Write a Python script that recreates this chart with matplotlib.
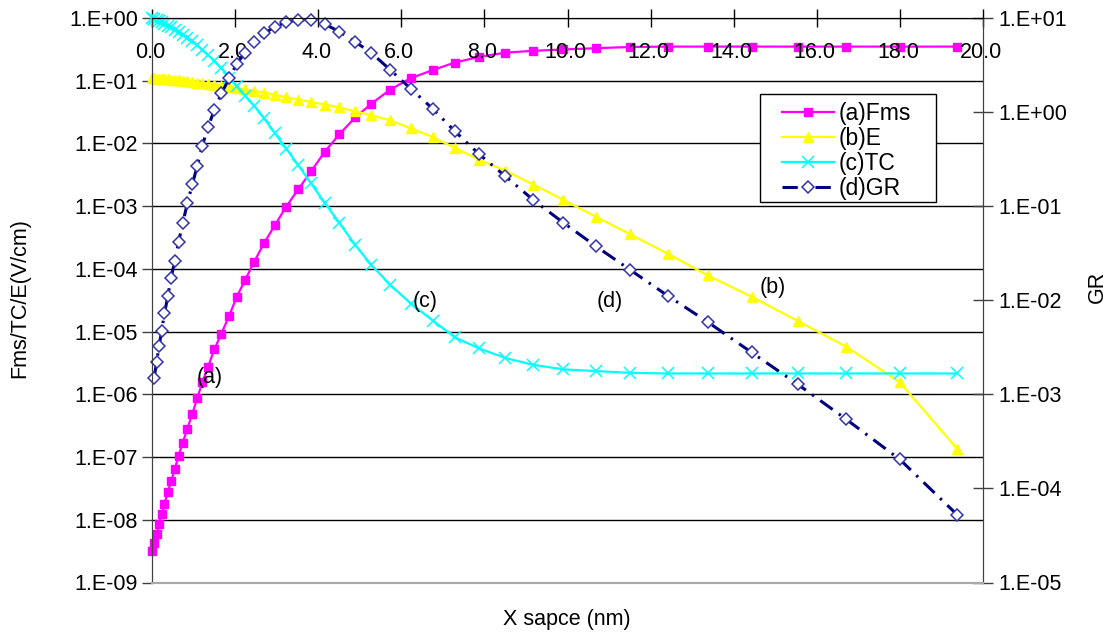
import matplotlib
matplotlib.use("Agg")
import matplotlib.pyplot as plt
import matplotlib.transforms as mtransforms
from matplotlib.ticker import FuncFormatter, NullLocator, FixedLocator
from matplotlib.patches import Rectangle
import numpy as np

plt.rcParams['font.family'] = ['Liberation Sans', 'DejaVu Sans']

# x mesh (nm)
x_nm = [0.0, 0.05, 0.11, 0.17, 0.23, 0.30, 0.38, 0.46, 0.55, 0.64,
        0.74, 0.85, 0.97, 1.09, 1.21, 1.35, 1.50, 1.67, 1.86, 2.04,
        2.24, 2.46, 2.70, 2.96, 3.23, 3.52, 3.83, 4.16, 4.51, 4.89,
        5.28, 5.73, 6.23, 6.76, 7.29, 7.87, 8.50, 9.18, 9.90, 10.68,
        11.51, 12.42, 13.37, 14.43, 15.54, 16.71, 18.00, 19.38]

fms = [3.2e-9, 4.2e-9, 6.0e-9, 8.7e-9, 1.23e-8, 1.8e-8, 2.75e-8, 4.1e-8, 6.5e-8, 1.05e-7,
       1.7e-7, 2.8e-7, 4.9e-7, 8.7e-7, 1.55e-6, 2.75e-6, 5.2e-6, 9.3e-6, 1.8e-5, 3.6e-5,
       6.6e-5, 1.3e-4, 2.6e-4, 5.0e-4, 9.8e-4, 1.86e-3, 3.6e-3, 7.4e-3, 1.4e-2, 2.6e-2,
       4.3e-2, 7.2e-2, 0.11, 0.148, 0.195, 0.24, 0.28, 0.30, 0.315, 0.33,
       0.345, 0.35, 0.35, 0.35, 0.35, 0.35, 0.35, 0.35]

e_field = [0.110, 0.109, 0.108, 0.108, 0.107, 0.106, 0.105, 0.104, 0.102, 0.101,
           0.0995, 0.0977, 0.0955, 0.0933, 0.0912, 0.0891, 0.0861, 0.0832, 0.0804, 0.0767,
           0.0733, 0.0692, 0.0646, 0.0596, 0.0543, 0.0501, 0.0457, 0.0417, 0.0376, 0.0324,
           0.0282, 0.0234, 0.0174, 0.0126, 8.5e-3, 5.5e-3, 3.7e-3, 2.2e-3, 1.26e-3, 6.8e-4,
           3.55e-4, 1.74e-4, 7.9e-5, 3.6e-5, 1.48e-5, 5.75e-6, 1.55e-6, 1.35e-7]

tc = [1.0, 0.977, 0.944, 0.902, 0.861, 0.813, 0.759, 0.708, 0.653, 0.603,
      0.537, 0.479, 0.427, 0.372, 0.309, 0.257, 0.209, 0.158, 0.112, 8.1e-2,
      5.75e-2, 3.98e-2, 2.51e-2, 1.45e-2, 8.3e-3, 4.5e-3, 2.3e-3, 1.12e-3, 5.4e-4, 2.4e-4,
      1.15e-4, 5.6e-5, 2.8e-5, 1.5e-5, 8.1e-6, 5.4e-6, 3.8e-6, 2.95e-6, 2.5e-6, 2.35e-6,
      2.2e-6, 2.15e-6, 2.15e-6, 2.15e-6, 2.15e-6, 2.15e-6, 2.15e-6, 2.15e-6]

gr = [np.nan, 1.48e-3, 2.19e-3, 3.24e-3, 4.68e-3, 7.24e-3, 1.10e-2, 1.74e-2, 2.63e-2, 4.17e-2,
      6.61e-2, 0.107, 0.170, 0.269, 0.437, 0.692, 1.06, 1.58, 2.29, 3.28,
      4.27, 5.55, 6.87, 8.07, 9.06, 9.53, 9.53, 8.63, 7.14, 5.58,
      4.26, 2.82, 1.77, 1.08, 0.625, 0.358, 0.209, 0.116, 6.67e-2, 3.76e-2,
      2.10e-2, 1.11e-2, 5.89e-3, 2.79e-3, 1.28e-3, 5.42e-4, 2.03e-4, 5.24e-5]

x_ticks = [0, 2, 4, 6, 8, 10, 12, 14, 16, 18, 20]
left_ticks = [1e-9, 1e-8, 1e-7, 1e-6, 1e-5, 1e-4, 1e-3, 1e-2, 1e-1, 1e0]
right_ticks = [1e-5, 1e-4, 1e-3, 1e-2, 1e-1, 1e0, 1e1]

FS = 15.5
fig = plt.figure(figsize=(11.12, 6.34), dpi=100)
ax = fig.add_axes([152/1112, 1-582.5/634, 831/1112, 564.5/634])
ax2 = ax.twinx()

sci = FuncFormatter(lambda v, p: '1.E%+03d' % int(round(np.log10(v))))

# left axis
ax.set_yscale('log')
ax.set_ylim(1e-9, 1)
ax.yaxis.set_major_locator(FixedLocator(left_ticks))
ax.yaxis.set_minor_locator(NullLocator())
ax.yaxis.set_major_formatter(sci)
ax.tick_params(axis='y', direction='out', length=7, width=1, color='#404040',
               labelsize=FS, pad=3)
ax.yaxis.grid(True, color='black', lw=1)
ax.set_axisbelow(True)

# x axis on top, labels below the line
ax.set_xlim(0, 20)
ax.xaxis.tick_top()
ax.set_xticks(x_ticks)
ax.tick_params(axis='x', direction='inout', length=13, width=1, color='black',
               labeltop=False, labelbottom=False)
lab_tr = mtransforms.offset_copy(
    mtransforms.blended_transform_factory(ax.transData, ax.transAxes),
    fig=fig, x=-2, y=-34, units='dots')
for v in x_ticks:
    ax.text(v, 1, '%.1f' % v, transform=lab_tr, ha='center', va='center', fontsize=FS)

# right axis
ax2.set_yscale('log')
ax2.set_ylim(1e-5, 10)
ax2.yaxis.set_major_locator(FixedLocator(right_ticks))
ax2.yaxis.set_minor_locator(NullLocator())
ax2.yaxis.set_major_formatter(sci)
ax2.tick_params(axis='y', direction='inout', length=14, width=1, color='#404040',
                labelsize=FS, pad=4)

for a in (ax, ax2):
    a.spines['top'].set_color('black')
    a.spines['left'].set_color('#404040')
    a.spines['right'].set_color('#404040')
    a.spines['bottom'].set_color('#a8a8a8')
    a.spines['bottom'].set_linewidth(1.5)

# series
l1, = ax.plot(x_nm, fms, color='#FF00FF', lw=1.6, marker='s', ms=5.5, clip_on=False,
              label='(a)Fms')
l2, = ax.plot(x_nm, e_field, color='#FFFF00', lw=1.6, marker='^', ms=6.5, clip_on=False,
              label='(b)E')
l3, = ax.plot(x_nm, tc, color='#00FFFF', lw=1.6, marker='x', ms=8, mew=1.1, clip_on=False,
              label='(c)TC')
l4, = ax2.plot(x_nm, gr, color='#000080', lw=2.2, ls=(0, (5, 2.5, 0.8, 2.5)),
               marker='D', ms=6, mfc='white', mec='#3333AA', mew=1.1, clip_on=False,
               label='(d)GR')

# curve tags
for tx, ty, s in [(0.0698, 0.364, '(a)'), (0.747, 0.522, '(b)'),
                  (0.3285, 0.497, '(c)'), (0.551, 0.497, '(d)')]:
    ax.text(tx, ty, s, transform=ax.transAxes, ha='center', va='center', fontsize=FS)

# legend
ax2.add_patch(Rectangle((760/1112, 1-202/634), 176/1112, 108/634, transform=fig.transFigure,
                        facecolor='white', edgecolor='black', lw=1, zorder=9, clip_on=False))
leg = ax2.legend(handles=[l1, l2, l3, l4], loc='upper left',
                 bbox_to_anchor=(777/1112, 1-97/634), bbox_transform=fig.transFigure,
                 frameon=False, fontsize=16.5, handlelength=2.3, handletextpad=0.2,
                 labelspacing=0.1, borderpad=0.2, borderaxespad=0)
leg.set_zorder(10)

fig.text(20/1112, 1-298/634, 'Fms/TC/E(V/cm)', rotation=90, ha='center', va='center',
         fontsize=FS)
fig.text(1097/1112, 1-287/634, 'GR', rotation=90, ha='center', va='center', fontsize=FS)
fig.text(567/1112, 1-619/634, 'X sapce (nm)', ha='center', va='center', fontsize=FS)

fig.savefig('out.png', dpi=100)
